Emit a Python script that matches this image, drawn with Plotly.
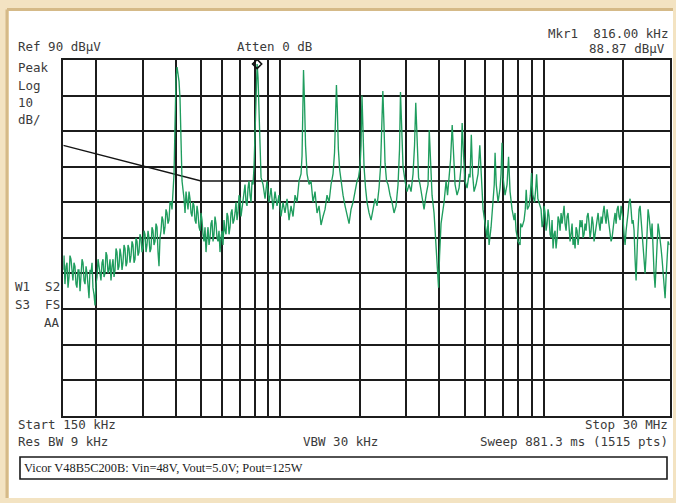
import math
import plotly.graph_objects as go

# ---------------------------------------------------------------------------
# Conducted-emission sweep, 150 kHz .. 30 MHz, peak detector (dBuV)
# ---------------------------------------------------------------------------
trace_freq_khz = [
    150.0, 152.2, 154.9, 157.7, 160.4, 163.2, 166.1, 169.0, 172.0, 175.1,
    178.2, 181.4, 184.6, 187.8, 191.1, 194.4, 197.9, 201.4, 204.9, 208.5,
    212.2, 215.9, 219.7, 223.6, 227.6, 231.6, 235.7, 239.8, 244.1, 248.4,
    252.7, 257.2, 261.7, 266.4, 271.1, 275.8, 280.7, 285.7, 290.7, 295.8,
    301.0, 306.3, 311.7, 317.2, 322.8, 328.5, 334.3, 340.2, 346.2, 352.3,
    358.5, 364.8, 371.2, 377.8, 384.5, 391.3, 394.8, 398.2, 401.7, 405.3,
    408.8, 412.4, 416.0, 419.7, 423.3, 430.8, 438.4, 446.1, 454.0, 462.0,
    470.1, 478.4, 486.8, 495.4, 504.1, 513.0, 522.1, 531.3, 540.6, 550.1,
    559.8, 569.7, 579.7, 590.0, 600.4, 611.0, 621.8, 632.7, 643.9, 655.2,
    666.8, 678.5, 690.5, 702.7, 715.1, 727.7, 740.5, 753.6, 766.9, 780.4,
    794.2, 801.2, 808.2, 816.0, 822.5, 829.7, 837.0, 844.4, 859.3, 874.4,
    889.8, 905.5, 921.4, 937.6, 954.2, 971.0, 988.1, 1005.6, 1023.3, 1041.3,
    1059.7, 1078.4, 1097.5, 1116.8, 1136.5, 1156.5, 1176.9, 1197.7, 1208.3, 1218.9,
    1224.0, 1234.9, 1245.8, 1262.2, 1284.6, 1307.0, 1330.0, 1353.5, 1377.4, 1401.7,
    1426.4, 1451.5, 1477.1, 1503.2, 1529.8, 1556.7, 1584.2, 1605.1, 1619.2, 1632.0,
    1644.9, 1659.4, 1679.6, 1699.0, 1728.9, 1759.4, 1790.5, 1822.1, 1854.0, 1886.7,
    1920.0, 1954.0, 1979.6, 2005.8, 2023.4, 2035.0, 2040.0, 2059.0, 2077.1, 2104.7,
    2132.4, 2170.0, 2208.2, 2247.1, 2286.7, 2327.1, 2368.1, 2399.4, 2426.9, 2448.0,
    2471.8, 2495.6, 2528.4, 2562.1, 2607.1, 2653.1, 2699.9, 2747.4, 2795.9, 2832.6,
    2856.0, 2882.8, 2920.7, 2972.3, 3024.7, 3078.0, 3132.3, 3187.5, 3229.5, 3264.0,
    3300.9, 3344.4, 3388.6, 3448.4, 3509.2, 3571.1, 3634.1, 3672.0, 3714.4, 3763.4,
    3829.8, 3897.3, 3948.6, 3983.3, 4018.2, 4071.3, 4125.1, 4179.6, 4253.3, 4309.1,
    4366.5, 4423.9, 4488.0, 4541.6, 4601.4, 4682.7, 4765.5, 4849.1, 4896.0, 4956.4,
    5021.6, 5110.3, 5200.6, 5245.9, 5304.0, 5361.9, 5432.7, 5528.5, 5626.0, 5712.0,
    5790.3, 5877.0, 5980.7, 6086.2, 6139.6, 6193.8, 6302.8, 6413.8, 6481.6, 6528.0,
    6595.9, 6700.2, 6818.5, 6878.4, 6936.0, 6999.5, 7123.1, 7248.8, 7344.0, 7441.3,
    7572.5, 7706.1, 7773.7, 7842.3, 7980.0, 8121.0, 8160.0, 8264.2, 8410.1, 8498.6,
    8568.0, 8656.2, 8786.1, 8885.9, 8976.0, 9082.5, 9218.1, 9315.6, 9384.0, 9487.5,
    9588.6, 9757.1, 9929.0, 10104.3, 10282.6, 10463.8, 10648.3, 10835.7, 11027.0, 11221.4,
    11419.2, 11620.8, 11825.5, 12034.2, 12246.4, 12462.3, 12682.2, 12905.3, 13133.3, 13365.0,
    13600.4, 13840.5, 14084.3, 14333.0, 14585.8, 14842.7, 15104.5, 15370.6, 15641.9, 15917.9,
    16198.8, 16484.2, 16774.5, 17070.4, 17371.6, 17677.6, 17989.8, 18306.8, 18629.8, 18958.6,
    19292.6, 19632.9, 19978.9, 20331.4, 20690.0, 21054.6, 21426.0, 21803.6, 22188.3, 22382.2,
    22677.4, 22979.0, 23382.9, 23794.4, 24214.2, 24640.7, 25075.1, 25518.6, 25968.4, 26426.1,
    26891.8, 27365.8, 27849.4, 28340.4, 28840.0, 29348.3, 30000.0,
]

trace_level_dbuv = [
    31, 27, 33, 29, 34, 28, 32, 26, 31, 29,
    33, 27, 30, 23, 30, 26, 21, 29, 32, 28,
    34, 30, 35, 31, 28, 34, 31, 36, 32, 35,
    33, 37, 33, 37, 35, 38, 34, 39, 36, 40,
    37, 41, 38, 40, 37, 42, 39, 43, 32, 42,
    45, 43, 47, 45, 50, 53, 58, 72, 85, 88,
    86.5, 84, 79, 64, 56, 51, 53, 48, 51, 46,
    49, 44, 47, 42, 45, 39, 36, 43, 40, 45,
    41, 44, 39, 36, 42, 45, 41, 46, 43, 48,
    45, 50, 47, 51, 48, 53, 50, 54, 52, 56,
    60, 70, 84, 88.87, 85, 74, 63, 57, 55, 51,
    56, 50, 54, 48, 53, 49, 52, 46, 50, 47,
    51, 45, 49, 46, 52, 50, 56, 58, 63, 75,
    87.2, 78, 66, 58, 55, 56, 50, 53, 47, 49,
    43.6, 46, 48, 52, 50, 55, 58, 64, 74, 83,
    76, 65, 59, 56, 52, 49, 46, 44, 48, 50,
    53, 56, 57, 60, 66, 76, 80, 70, 60, 54,
    50, 47, 45, 48, 51, 49, 54, 60, 70, 81.3,
    72, 61, 56, 55, 52, 50, 47, 49, 55, 65,
    81, 70, 60, 56, 53, 55, 53, 58, 66, 78,
    66, 57, 55, 51, 48, 52, 55, 70.3, 62, 52,
    47, 39, 30, 26, 35, 44, 47, 50, 56, 52,
    57, 62, 71.7, 62, 55, 52, 54, 60, 72.3, 63,
    56, 54, 58, 57, 69, 58, 53, 55, 58, 66,
    56, 48, 44, 40, 45, 38, 43, 50, 55, 63.9,
    55, 50, 54, 58, 66.7, 57, 52, 55, 62.8, 53,
    48, 45, 47, 42, 39, 38, 44, 43, 45, 48,
    53.5, 48, 49, 52, 58.2, 52, 50, 54, 57.9, 51,
    50, 48, 44, 47, 44, 46, 40, 37, 42, 40,
    45, 47, 48, 44, 46, 43, 41, 38, 37, 42,
    41, 43, 40, 44, 46, 44, 42, 44, 41, 45,
    44, 46, 47, 46, 48, 43, 39, 44, 47, 48,
    46, 49, 45, 38, 46, 50, 48, 45, 34, 28,
    40, 48, 45, 40, 30, 42, 46, 40, 33, 26,
    38, 42, 37, 30, 23, 35, 38,
]

# Additional sweep points in the noise-floor stretches (merged by frequency)
floor_low_freq_khz = [
    150.9, 153.6, 156.3, 159.0, 161.8, 164.7, 167.6, 170.6, 173.6, 176.7,
    179.8, 183.0, 186.2, 189.4, 192.8, 196.2, 199.6, 203.2, 206.7, 210.4,
    214.1, 217.9, 221.7, 225.6, 229.6, 233.7, 237.8, 242.0, 246.2, 250.6,
    255.0, 259.5, 264.1, 268.7, 273.5, 278.3, 283.2, 288.2, 293.2, 298.4,
    303.7, 309.0, 314.5, 320.0, 325.6, 331.4, 337.2, 343.2, 349.2, 355.4,
    361.6, 368.0, 374.5, 381.2, 387.9,
]
floor_low_level_dbuv = [
    35, 32, 26, 35, 30, 33, 27, 31, 25, 34,
    28, 32, 25, 31, 33, 24, 27, 34, 29, 33,
    29, 36, 30, 34, 32, 29, 37, 31, 37, 31,
    38, 32, 38, 33, 39, 33, 40, 35, 41, 36,
    42, 36, 42, 36, 43, 38, 44, 36, 40, 46,
    41, 48, 44, 50, 48,
]

floor_mid_freq_khz = [
    434.6, 442.2, 450.0, 458.0, 466.0, 474.2, 482.6, 491.1, 499.7, 508.5,
    517.5, 526.7, 536.0, 545.3, 555.0, 564.7, 574.7, 584.8, 595.2, 605.7,
    616.4, 627.3, 638.3, 649.6, 661.1, 672.7, 684.5, 696.6, 708.9, 721.4,
    734.1, 747.0, 760.2, 773.6, 787.3,
]
floor_mid_level_dbuv = [
    47, 50, 53, 47, 50, 45, 49, 43, 47, 41,
    43, 40, 38, 44, 39, 46, 40, 42, 40, 38,
    42, 47, 41, 47, 44, 47, 45, 52, 46, 50,
    55, 49, 56, 50, 55,
]

floor_high_freq_khz = [
    9842.7, 10016.2, 10192.8, 10372.5, 10555.6, 10741.6, 10931.0, 11123.7, 11319.8, 11519.7,
    11722.8, 11929.5, 12139.8, 12353.8, 12571.8, 12793.4, 13019.0, 13248.6, 13482.2, 13720.0,
    13961.9, 14208.1, 14458.6, 14713.5, 14973.1, 15237.1, 15505.7, 15779.1, 16057.3, 16340.7,
    16628.8, 16922.0, 17220.4, 17524.0, 17833.2, 18147.6, 18467.6, 18793.2, 19124.6, 19462.0,
    19805.1, 20154.3, 20509.7, 20871.3, 21239.5, 21614.0, 21995.1, 23179.4, 23588.1, 24004.0,
    24427.2, 24857.9, 25296.5, 25742.5, 26196.4, 26658.3, 27128.3, 27607.0, 28093.8, 28589.1,
    29093.2, 29606.2,
]
floor_high_level_dbuv = [
    43, 49, 42, 48, 41, 45, 41, 37, 46, 42,
    44, 49, 42, 47, 39, 44, 40, 43, 38, 45,
    45, 41, 42, 47, 40, 46, 39, 43, 47, 42,
    44, 49, 44, 46, 41, 40, 45, 44, 49, 45,
    47, 41, 42, 47, 51, 44, 42, 49, 43, 36,
    35, 48, 43, 44, 30, 32, 44, 40, 34, 28,
    29, 39,
]

# CISPR 22 class B quasi-peak limit
limit_freq_khz = [150, 500, 5000, 5000, 30000]
limit_level_dbuv = [66, 56, 56, 60, 60]

# Marker 1
marker_freq_khz = [816.0]
marker_level_dbuv = [88.87]

# Graticule: 10 dB/div from the 90 dBuV reference, log frequency lines
ref_level = 90
db_per_div = 10
n_divs = 10
grid_freq_khz = [200, 300, 400, 500, 600, 700, 800, 900,
                 1000, 2000, 3000, 4000, 5000, 6000, 7000, 8000, 9000,
                 10000, 20000]
start_khz, stop_khz = 150, 30000

# merge all sweep points in frequency order
samples = sorted(
    list(zip(trace_freq_khz, trace_level_dbuv))
    + list(zip(floor_low_freq_khz, floor_low_level_dbuv))
    + list(zip(floor_mid_freq_khz, floor_mid_level_dbuv))
    + list(zip(floor_high_freq_khz, floor_high_level_dbuv))
)
sweep_f = [s[0] for s in samples]
sweep_l = [s[1] for s in samples]

# ---------------------------------------------------------------------------
W, H = 676, 503
GX0, GX1 = 63.3, 669.6      # graticule left/right (px)
GY0, GY1 = 60.0, 415.7      # graticule top/bottom (px)

MONO = "DejaVu Sans Mono"
TXT = "#3b3b3b"
GRID = "#1c1c1c"


def px(x, y):
    return x / W, 1 - y / H


fig = go.Figure()

fig.add_trace(go.Scatter(
    x=limit_freq_khz, y=limit_level_dbuv, mode="lines",
    line=dict(color="#151515", width=1.4), hoverinfo="skip",
))
fig.add_trace(go.Scatter(
    x=sweep_f, y=sweep_l, mode="lines",
    line=dict(color="#1f9d5e", width=1.35),
))
fig.add_trace(go.Scatter(
    x=marker_freq_khz, y=marker_level_dbuv, mode="markers",
    marker=dict(symbol="diamond-open", size=7, color="#111111",
                line=dict(width=1.6, color="#111111")),
    cliponaxis=False,
))

fig.update_xaxes(
    type="log", range=[math.log10(start_khz), math.log10(stop_khz)],
    domain=[GX0 / W, GX1 / W],
    tickvals=grid_freq_khz, showticklabels=False, ticks="",
    showgrid=True, gridcolor=GRID, gridwidth=1.7,
    showline=True, mirror=True, linecolor=GRID, linewidth=2,
    zeroline=False,
)
fig.update_yaxes(
    range=[ref_level - n_divs * db_per_div, ref_level],
    domain=[1 - GY1 / H, 1 - GY0 / H],
    dtick=db_per_div, tick0=0, showticklabels=False, ticks="",
    showgrid=True, gridcolor=GRID, gridwidth=2,
    showline=True, mirror=True, linecolor=GRID, linewidth=2,
    zeroline=False,
)

shapes = []
# white screen panel with tan frame on the top and left edges
x0, y0 = px(9, 11)
x1, y1 = px(673, 498)
shapes.append(dict(type="rect", xref="paper", yref="paper", x0=x0, y0=y1, x1=x1, y1=y0,
                   fillcolor="white", line=dict(width=0), layer="below"))
a0, b0 = px(7, 9.5)
a1, b1 = px(673, 9.5)
shapes.append(dict(type="line", xref="paper", yref="paper", x0=a0, y0=b0, x1=a1, y1=b1,
                   line=dict(color="#d5ba88", width=3), layer="below"))
a0, b0 = px(7, 9.5)
a1, b1 = px(7, 498)
shapes.append(dict(type="line", xref="paper", yref="paper", x0=a0, y0=b0, x1=a1, y1=b1,
                   line=dict(color="#d5ba88", width=3), layer="below"))
# caption box
c0, d0 = px(20, 457)
c1, d1 = px(667, 479)
shapes.append(dict(type="rect", xref="paper", yref="paper", x0=c0, y0=d1, x1=c1, y1=d0,
                   fillcolor="rgba(0,0,0,0)", line=dict(color="#1a1a1a", width=1.6)))

annotations = []


def note(text, x, y, anchor="left", size=12.5, family=MONO, color=TXT):
    ax, ay = px(x, y)
    annotations.append(dict(
        text=text, x=ax, y=ay, xref="paper", yref="paper",
        xanchor=anchor, yanchor="middle", showarrow=False,
        font=dict(family=family, size=size, color=color),
    ))


note("Mkr1  816.00 kHz", 670, 33, "right")
note("Ref 90 dBµV", 16, 47)
note("Atten 0 dB", 235, 47)
note("88.87 dBµV", 667, 48, "right")
note("Peak", 16, 67)
note("Log", 16, 85)
note("10", 16, 102)
note("dB/", 16, 120)
note("W1  S2", 62, 286, "right")
note("S3  FS", 62, 304, "right")
note("AA", 62, 322, "right")
note("Start 150 kHz", 16, 424)
note("Res BW 9 kHz", 16, 441)
note("VBW 30 kHz", 301, 441)
note("Stop 30 MHz", 670, 424, "right")
note("Sweep 881.3 ms (1515 pts)", 670, 441, "right")
note("Vicor V48B5C200B: Vin=48V, Vout=5.0V; Pout=125W", 22, 468,
     size=12.4, family="Liberation Serif", color="#1a1a1a")

fig.update_layout(
    width=W, height=H,
    margin=dict(l=0, r=0, t=0, b=0),
    paper_bgcolor="#f3e3c2",
    plot_bgcolor="white",
    showlegend=False,
    shapes=shapes,
    annotations=annotations,
)

fig.write_html("out.html", config={"displayModeBar": False})
